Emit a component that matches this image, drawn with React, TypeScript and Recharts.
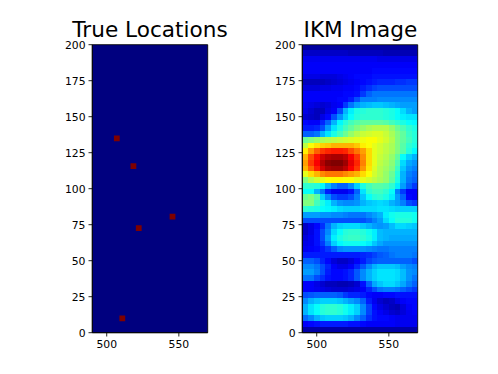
import React from 'react';
import { ScatterChart, XAxis, YAxis, ReferenceArea } from 'recharts';

const xTicks = [500, 550];
const yTicks = [0, 25, 50, 75, 100, 125, 150, 175, 200];
const xDomain: [number, number] = [490, 570];
const yDomain: [number, number] = [0, 200];
const cellSize = 4;

// true source locations
const trueX = [507, 518.5, 522.2, 545.6, 510.8];
const trueY = [135, 115.6, 72.7, 80.6, 10];

// IKM image intensity (0-100), top row (y=200) first, 20 columns from x=490
const ikmRows: number[][] = [
  [3,3,3,3,3,3,3,3,3,3,3,3,3,3,3,3,3,3,3,3],
  [7,7,7,7,7,7,7,7,6,6,6,6,6,6,5,5,5,5,5,5],
  [11,11,11,11,11,11,11,11,11,11,11,11,11,10,10,10,10,10,10,10],
  [12,12,12,12,12,12,12,12,12,12,12,12,12,12,12,12,12,12,12,12],
  [12,12,12,12,12,12,12,12,12,12,12,12,13,13,13,13,13,13,13,13],
  [10,10,10,9,9,9,10,11,12,13,13,13,14,14,14,14,14,14,14,14],
  [6,6,6,6,7,8,9,10,11,12,13,14,15,16,16,16,17,17,18,18],
  [9,9,9,10,10,11,11,12,12,13,15,17,19,20,20,20,20,20,20,20],
  [12,12,12,12,12,12,12,13,13,14,18,22,24,24,24,24,24,24,24,24],
  [12,12,12,12,12,12,13,13,15,20,25,25,25,26,26,26,26,26,26,26],
  [11,10,9,8,9,11,12,18,24,28,30,31,32,32,31,30,29,28,28,28],
  [10,8,6,6,10,12,20,30,36,40,41,42,42,42,41,40,38,34,30,28],
  [8,7,6,10,13,20,27,33,38,41,42,42,42,42,41,40,38,36,35,35],
  [13,12,12,16,22,30,37,41,44,46,47,47,47,47,46,44,42,40,38,37],
  [15,15,16,20,28,35,40,44,47,50,52,54,55,55,55,52,48,45,42,40],
  [22,22,24,30,35,40,44,48,52,55,57,58,59,59,57,54,50,47,43,41],
  [48,50,52,54,55,56,57,58,59,60,61,62,62,60,58,55,50,47,44,41],
  [56,62,65,67,68,70,70,70,70,68,64,62,60,58,56,54,50,46,42,40],
  [64,72,78,82,84,85,85,84,80,76,72,66,60,58,56,54,50,46,41,37],
  [70,80,86,92,95,96,96,94,88,82,74,66,60,57,55,52,47,38,33,30],
  [72,82,88,95,99,100,100,97,90,84,75,66,60,56,54,51,45,34,29,27],
  [70,78,85,92,96,97,97,94,88,82,73,65,59,55,53,50,43,32,27,25],
  [60,66,70,74,76,76,76,74,72,70,66,62,58,55,52,48,41,30,25,23],
  [50,55,58,60,62,63,63,62,62,60,60,58,56,54,52,47,40,30,24,22],
  [42,42,41,37,30,25,22,22,26,33,40,44,46,46,45,42,36,28,22,18],
  [38,38,30,24,15,11,11,11,14,22,35,42,44,44,42,38,25,18,12,12],
  [48,50,46,33,26,20,18,18,20,25,32,38,41,42,40,36,28,22,13,12],
  [50,50,44,40,36,30,27,26,26,27,30,32,33,34,33,30,28,25,20,18],
  [42,41,40,38,37,36,34,33,33,33,34,34,34,35,35,34,33,33,33,33],
  [28,28,28,27,27,26,26,25,24,24,24,26,28,30,36,39,40,40,40,39],
  [20,20,20,20,20,20,20,20,20,20,20,22,25,28,34,38,41,41,41,39],
  [7,10,13,17,24,30,33,34,34,34,32,30,28,27,28,31,34,34,33,32],
  [7,10,14,20,26,34,38,41,42,42,41,39,36,31,30,30,30,30,30,30],
  [9,11,14,20,28,36,40,42,43,43,42,40,36,31,30,29,29,29,29,29],
  [10,11,14,18,25,33,37,39,39,39,38,36,32,29,27,27,27,27,27,27],
  [11,12,13,15,18,22,26,27,27,27,27,26,25,24,24,25,25,25,25,25],
  [15,15,15,15,15,15,15,15,15,15,16,17,19,21,22,24,25,25,25,24],
  [22,22,20,16,13,9,7,7,9,12,15,19,21,22,22,22,22,22,22,20],
  [26,26,24,20,16,12,10,10,12,16,21,26,30,32,32,32,31,28,26,25],
  [28,28,25,20,15,13,13,14,16,21,26,30,33,35,35,35,34,31,27,26],
  [24,24,20,17,14,13,13,14,16,21,26,30,33,35,35,35,34,31,27,24],
  [12,12,10,8,6,6,5,5,6,8,14,22,29,32,34,34,32,29,25,22],
  [12,12,11,10,9,8,8,8,9,10,12,16,20,24,25,25,24,22,20,18],
  [20,21,22,22,22,22,21,18,16,16,15,13,12,12,13,13,14,14,14,14],
  [26,30,32,33,33,33,32,30,28,26,22,15,11,8,6,7,10,12,13,13],
  [30,35,38,41,42,42,41,39,36,33,26,19,13,10,8,6,5,9,12,13],
  [30,35,38,41,42,42,41,39,36,33,26,19,14,12,10,8,7,9,11,12],
  [23,26,30,32,33,33,33,32,30,26,22,17,14,13,13,12,11,11,11,11],
  [12,13,14,15,15,15,15,15,14,14,13,12,12,12,12,12,11,11,11,11],
  [4,4,4,4,4,4,4,4,4,4,4,4,4,4,4,4,4,4,4,4],
];

// matplotlib's jet colormap
const jet = (pct: number) => {
  const v = pct / 100;
  const ch = (t: number) => Math.round(255 * Math.max(0, Math.min(1, 1.5 - Math.abs(4 * v - t))));
  return `rgb(${ch(3)},${ch(2)},${ch(1)})`;
};

const fontFamily = '"DejaVu Sans", sans-serif';
const tickStyle = { fill: '#000', fontSize: 10.8, fontFamily };
const axisLine = { stroke: '#000', strokeWidth: 0.86 };

const Panel = ({ left, title, children }: { left: number; title: string; children: React.ReactNode }) => (
  <div style={{ position: 'absolute', left, top: 0, width: 240, height: 374 }}>
    <ScatterChart
      width={240}
      height={374}
      data={[{ x: 500, y: 0 }]}
      margin={{ top: 44.7, right: 32.3, bottom: 1.3, left: 0 }}
    >
      <XAxis
        type="number"
        dataKey="x"
        domain={xDomain}
        ticks={xTicks}
        height={40}
        tickSize={3.8}
        tickMargin={4}
        tick={tickStyle}
        axisLine={axisLine}
        tickLine={axisLine}
        allowDataOverflow
      />
      <YAxis
        type="number"
        dataKey="y"
        domain={yDomain}
        ticks={yTicks}
        width={92.3}
        tickSize={3.8}
        tickMargin={3}
        interval={0}
        tick={tickStyle}
        axisLine={axisLine}
        tickLine={axisLine}
        allowDataOverflow
      />
      {children}
      <ReferenceArea
        x1={xDomain[0]}
        x2={xDomain[1]}
        y1={yDomain[0]}
        y2={yDomain[1]}
        fill="none"
        fillOpacity={0}
        stroke="#000"
        strokeWidth={0.86}
        strokeOpacity={1}
      />
    </ScatterChart>
    <div
      style={{
        position: 'absolute',
        left: 92.3,
        width: 115.4,
        top: 20,
        fontFamily,
        fontSize: 21.6,
        lineHeight: '20px',
        whiteSpace: 'nowrap',
        display: 'flex',
        justifyContent: 'center',
      }}
    >
      {title}
    </div>
  </div>
);

const cell = (key: string, x: number, y: number, fill: string, crisp: boolean) => (
  <ReferenceArea
    key={key}
    x1={x}
    x2={x + cellSize}
    y1={y}
    y2={y + cellSize}
    fill={fill}
    fillOpacity={1}
    stroke="none"
    shapeRendering={crisp ? 'crispEdges' : 'auto'}
    ifOverflow="hidden"
  />
);

export default function App() {
  return (
    <div style={{ position: 'absolute', left: 0, top: 0, width: 498, height: 374, background: '#fff', overflow: 'hidden' }}>
      <Panel left={0} title="True Locations">
        <ReferenceArea x1={xDomain[0]} x2={xDomain[1]} y1={yDomain[0]} y2={yDomain[1]} fill="#00007f" fillOpacity={1} stroke="none" />
        {trueX.map((x, i) => cell(`t${i}`, x - cellSize / 2, trueY[i] - cellSize / 2, '#7f0000', false))}
      </Panel>
      <Panel left={210.4} title="IKM Image">
        {ikmRows.flatMap((row, r) =>
          row.map((v, c) => cell(`${r}-${c}`, xDomain[0] + c * cellSize, yDomain[1] - (r + 1) * cellSize, jet(v), true)),
        )}
      </Panel>
    </div>
  );
}
